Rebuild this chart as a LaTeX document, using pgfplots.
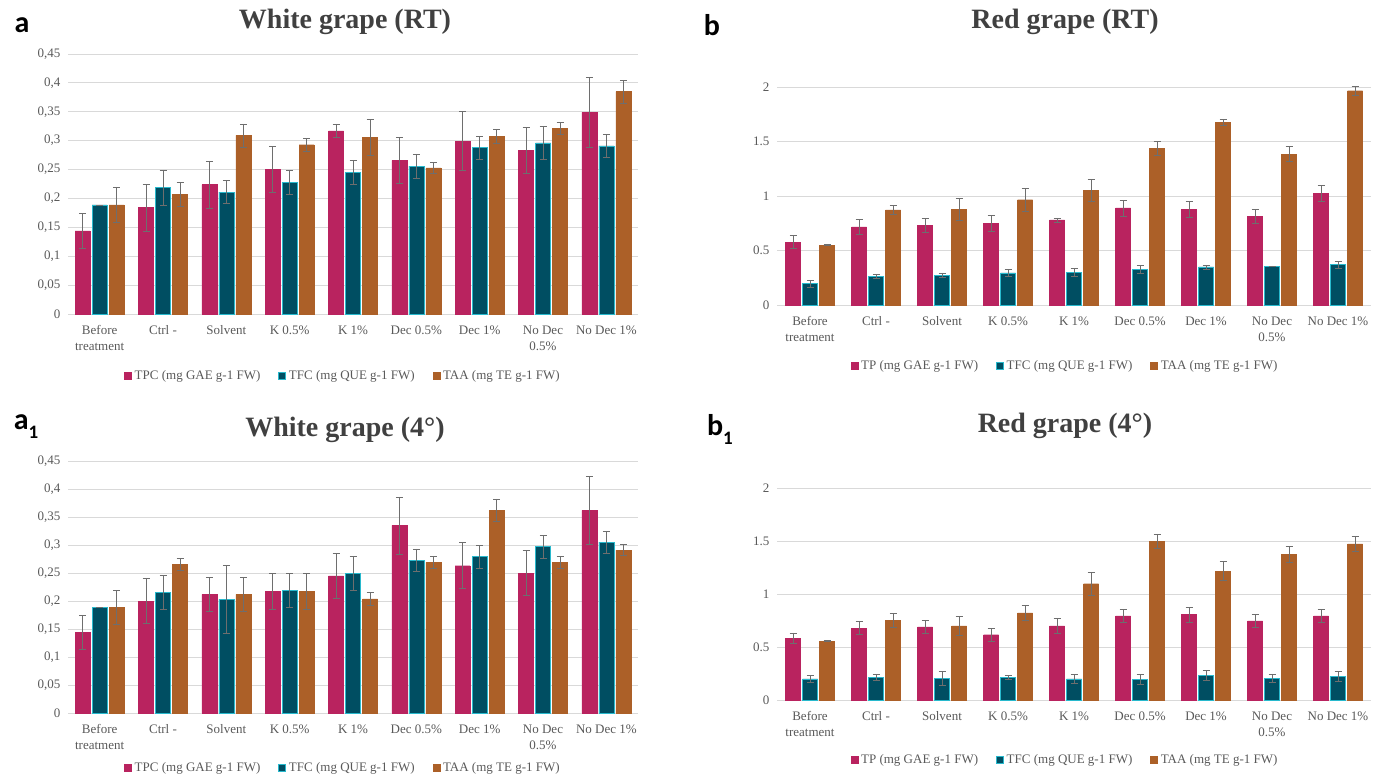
\documentclass[border=0pt]{standalone}
\usepackage{pgfplots}
\pgfplotsset{compat=1.18}
\usepackage{pgfplotstable}
\usepackage{fontspec}
\setmainfont{Liberation Serif}
\newfontfamily\letterfont{Carlito}
\definecolor{cTPC}{RGB}{185,35,95}
\definecolor{cTFC}{RGB}{0,78,98}
\definecolor{cTFCedge}{RGB}{40,185,205}
\definecolor{cTAA}{RGB}{172,96,40}
\definecolor{gridc}{RGB}{217,217,217}
\definecolor{tickc}{RGB}{89,89,89}
\definecolor{titlec}{RGB}{64,64,64}
\definecolor{errc}{RGB}{110,110,110}

\pgfplotstableread{
x TPC TPCe TFC TFCe TAA TAAe
0 0.144 0.030 0.189 0.000 0.189 0.031
1 0.184 0.040 0.219 0.030 0.207 0.021
2 0.224 0.041 0.211 0.020 0.309 0.020
3 0.250 0.040 0.228 0.020 0.293 0.011
4 0.317 0.012 0.245 0.021 0.306 0.031
5 0.266 0.040 0.256 0.021 0.253 0.010
6 0.299 0.051 0.288 0.020 0.307 0.012
7 0.283 0.040 0.296 0.029 0.321 0.010
8 0.349 0.060 0.291 0.020 0.385 0.020
}\dataA

\pgfplotstableread{
x TPC TPCe TFC TFCe TAA TAAe
0 0.578 0.060 0.196 0.030 0.550 0.006
1 0.716 0.067 0.266 0.018 0.872 0.042
2 0.728 0.064 0.275 0.019 0.878 0.098
3 0.746 0.074 0.294 0.030 0.966 0.104
4 0.780 0.020 0.300 0.036 1.052 0.104
5 0.890 0.073 0.327 0.037 1.434 0.064
6 0.878 0.076 0.349 0.018 1.676 0.030
7 0.813 0.065 0.355 0.003 1.385 0.071
8 1.027 0.071 0.370 0.030 1.966 0.040
}\dataB

\pgfplotstableread{
x TPC TPCe TFC TFCe TAA TAAe
0 0.144 0.031 0.189 0.000 0.189 0.030
1 0.200 0.040 0.216 0.030 0.265 0.011
2 0.212 0.030 0.203 0.060 0.212 0.030
3 0.217 0.032 0.219 0.031 0.217 0.032
4 0.245 0.040 0.250 0.030 0.204 0.011
5 0.335 0.051 0.273 0.020 0.269 0.010
6 0.263 0.041 0.279 0.021 0.3625 0.020
7 0.250 0.040 0.297 0.020 0.269 0.010
8 0.362 0.060 0.305 0.020 0.291 0.010
}\dataAone

\pgfplotstableread{
x TPC TPCe TFC TFCe TAA TAAe
0 0.584 0.050 0.200 0.031 0.556 0.006
1 0.678 0.060 0.2125 0.031 0.750 0.066
2 0.690 0.060 0.206 0.063 0.700 0.088
3 0.616 0.059 0.2125 0.019 0.822 0.072
4 0.700 0.069 0.200 0.044 1.097 0.106
5 0.794 0.059 0.194 0.044 1.494 0.065
6 0.806 0.069 0.234 0.044 1.216 0.090
7 0.747 0.059 0.206 0.041 1.375 0.072
8 0.794 0.059 0.222 0.047 1.472 0.068
}\dataBone

\pgfplotsset{
  sqlegend/.style={legend image code/.code={\fill[##1] (0pt,-3.5pt) rectangle (7pt,3.5pt);}},
  errs/.style={error bars/.cd, y dir=both, y explicit,
     error bar style={errc, line width=0.6pt},
     error mark options={rotate=90, mark size=3.5pt, errc, line width=0.6pt}},
  panel/.style={
    scale only axis, ybar=2pt, bar width=15pt,
    xmin=-0.5, xmax=8.5, ymin=0,
    xtick={0,...,8},
    xticklabels={Before\\treatment, Ctrl -, Solvent, K 0.5\%, K 1\%, Dec 0.5\%, Dec 1\%, No Dec\\0.5\%, No Dec 1\%},
    xticklabel style={align=center, font=\fontsize{13}{16}\selectfont, text=tickc, yshift=-8pt},
    yticklabel style={font=\fontsize{13}{15}\selectfont, text=tickc, xshift=-4pt},
    /pgf/number format/assume math mode=true,
    major tick length=0pt,
    ymajorgrids, grid style={gridc, line width=0.9pt},
    axis line style={draw=none},
    clip=false,
    legend style={draw=none, fill=none, legend columns=3,
      font=\fontsize{13}{15}\selectfont, text=tickc,
      /tikz/every odd column/.append style={column sep=1pt},
      /tikz/every even column/.append style={column sep=16pt}},
  },
  whitey/.style={ymax=0.45, ytick={0,0.05,...,0.45},
    yticklabel style={/pgf/number format/.cd, use comma, fixed, precision=2}},
  redy/.style={ymax=2, ytick={0,0.5,1,1.5,2},
    yticklabel style={/pgf/number format/.cd, fixed, precision=1}},
}

\begin{document}
\begin{tikzpicture}
\path[use as bounding box] (0pt,0pt) rectangle (1384pt,-782pt);

% ---------- panel a ----------
\node[font=\letterfont\bfseries\fontsize{30}{32}\selectfont] at (22pt,-25pt) {a};
\node[font=\bfseries\fontsize{28}{30}\selectfont, text=titlec] at (345pt,-22pt) {White grape (RT)};
\begin{axis}[panel, whitey, anchor=south west, at={(68pt,-314pt)}, width=570pt, height=260pt,
  legend style={at={(0.4825,-0.238)}, anchor=center}]
\addplot[sqlegend, fill=cTPC, draw=cTPC, errs] table[x=x, y=TPC, y error=TPCe]{\dataA};
\addplot[sqlegend, fill=cTFC, draw=cTFCedge, line width=0.6pt, errs] table[x=x, y=TFC, y error=TFCe]{\dataA};
\addplot[sqlegend, fill=cTAA, draw=cTAA, errs] table[x=x, y=TAA, y error=TAAe]{\dataA};
\legend{TPC (mg GAE g-1 FW), TFC (mg QUE g-1 FW), TAA (mg TE g-1 FW)}
\end{axis}

% ---------- panel b ----------
\node[font=\letterfont\bfseries\fontsize{30}{32}\selectfont] at (712pt,-25pt) {b};
\node[font=\bfseries\fontsize{28}{30}\selectfont, text=titlec] at (1065pt,-22pt) {Red grape (RT)};
\begin{axis}[panel, redy, anchor=south west, at={(777pt,-305pt)}, width=594pt, height=218pt,
  legend style={at={(0.485,-0.28)}, anchor=center}]
\addplot[sqlegend, fill=cTPC, draw=cTPC, errs] table[x=x, y=TPC, y error=TPCe]{\dataB};
\addplot[sqlegend, fill=cTFC, draw=cTFCedge, line width=0.6pt, errs] table[x=x, y=TFC, y error=TFCe]{\dataB};
\addplot[sqlegend, fill=cTAA, draw=cTAA, errs] table[x=x, y=TAA, y error=TAAe]{\dataB};
\legend{TP (mg GAE g-1 FW), TFC (mg QUE g-1 FW), TAA (mg TE g-1 FW)}
\end{axis}

% ---------- panel a1 ----------
\node[font=\letterfont\bfseries\fontsize{30}{32}\selectfont] at (26pt,-427pt) {a\raisebox{-0.3em}{\fontsize{19}{19}\selectfont 1}};
\node[font=\bfseries\fontsize{28}{30}\selectfont, text=titlec] at (345pt,-430pt) {White grape (4°)};
\begin{axis}[panel, whitey, anchor=south west, at={(68pt,-713pt)}, width=570pt, height=252pt,
  legend style={at={(0.4825,-0.218)}, anchor=center}]
\addplot[sqlegend, fill=cTPC, draw=cTPC, errs] table[x=x, y=TPC, y error=TPCe]{\dataAone};
\addplot[sqlegend, fill=cTFC, draw=cTFCedge, line width=0.6pt, errs] table[x=x, y=TFC, y error=TFCe]{\dataAone};
\addplot[sqlegend, fill=cTAA, draw=cTAA, errs] table[x=x, y=TAA, y error=TAAe]{\dataAone};
\legend{TPC (mg GAE g-1 FW), TFC (mg QUE g-1 FW), TAA (mg TE g-1 FW)}
\end{axis}

% ---------- panel b1 ----------
\node[font=\letterfont\bfseries\fontsize{30}{32}\selectfont] at (720pt,-429pt) {b\raisebox{-0.3em}{\fontsize{19}{19}\selectfont 1}};
\node[font=\bfseries\fontsize{28}{30}\selectfont, text=titlec] at (1065pt,-426pt) {Red grape (4°)};
\begin{axis}[panel, redy, anchor=south west, at={(777pt,-700pt)}, width=594pt, height=212pt,
  legend style={at={(0.485,-0.283)}, anchor=center}]
\addplot[sqlegend, fill=cTPC, draw=cTPC, errs] table[x=x, y=TPC, y error=TPCe]{\dataBone};
\addplot[sqlegend, fill=cTFC, draw=cTFCedge, line width=0.6pt, errs] table[x=x, y=TFC, y error=TFCe]{\dataBone};
\addplot[sqlegend, fill=cTAA, draw=cTAA, errs] table[x=x, y=TAA, y error=TAAe]{\dataBone};
\legend{TP (mg GAE g-1 FW), TFC (mg QUE g-1 FW), TAA (mg TE g-1 FW)}
\end{axis}
\end{tikzpicture}
\end{document}
